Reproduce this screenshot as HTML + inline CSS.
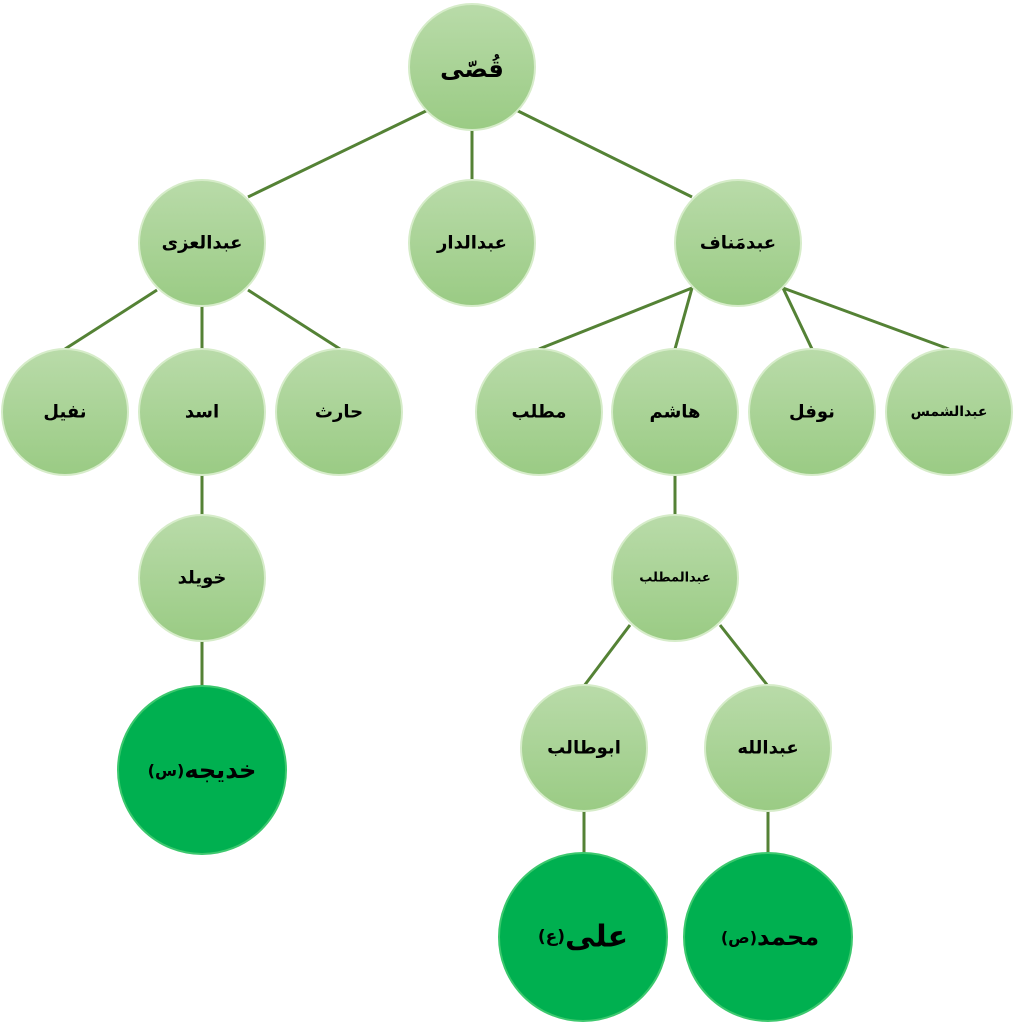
<!DOCTYPE html>
<html><head><meta charset="utf-8"><style>
html,body{margin:0;padding:0;background:#fff;}
svg{display:block;}
text{font-family:"DejaVu Sans","Noto Sans CJK SC",sans-serif;font-weight:bold;fill:#000;text-anchor:middle;dominant-baseline:central;}
</style></head><body>
<svg width="1015" height="1024" viewBox="0 0 1015 1024" xmlns="http://www.w3.org/2000/svg">
<defs>
<linearGradient id="g" x1="0" y1="0" x2="0" y2="1">
<stop offset="0" stop-color="#b9dba9"/><stop offset="1" stop-color="#9acb84"/></linearGradient>
</defs>
<g stroke="#548235" stroke-width="3" fill="none">
<line x1="428" y1="110" x2="248" y2="197"/>
<line x1="472" y1="120" x2="472" y2="190"/>
<line x1="516" y1="110" x2="692" y2="197"/>
<line x1="157" y1="290" x2="65" y2="349"/>
<line x1="202" y1="300" x2="202" y2="360"/>
<line x1="248" y1="290" x2="340" y2="349"/>
<line x1="202" y1="470" x2="202" y2="520"/>
<line x1="202" y1="635" x2="202" y2="690"/>
<line x1="692" y1="288" x2="539" y2="349"/>
<line x1="692" y1="288" x2="675" y2="349"/>
<line x1="783" y1="288" x2="812" y2="349"/>
<line x1="783" y1="288" x2="949" y2="349"/>
<line x1="675" y1="470" x2="675" y2="520"/>
<line x1="630" y1="625" x2="584" y2="686"/>
<line x1="720" y1="625" x2="768" y2="686"/>
<line x1="584" y1="805" x2="584" y2="856"/>
<line x1="768" y1="805" x2="768" y2="856"/>
</g>
<g fill="url(#g)" stroke="#d6ecc9" stroke-width="2">
<circle cx="472" cy="67" r="63"/>
<circle cx="202" cy="243" r="63"/>
<circle cx="472" cy="243" r="63"/>
<circle cx="738" cy="243" r="63"/>
<circle cx="65" cy="412" r="63"/>
<circle cx="202" cy="412" r="63"/>
<circle cx="339" cy="412" r="63"/>
<circle cx="539" cy="412" r="63"/>
<circle cx="675" cy="412" r="63"/>
<circle cx="812" cy="412" r="63"/>
<circle cx="949" cy="412" r="63"/>
<circle cx="202" cy="578" r="63"/>
<circle cx="675" cy="578" r="63"/>
<circle cx="584" cy="748" r="63"/>
<circle cx="768" cy="748" r="63"/>
</g>
<g fill="#00b050" stroke="#3cc86e" stroke-width="2">
<circle cx="202" cy="770" r="84"/>
<circle cx="583" cy="937" r="84"/>
<circle cx="768" cy="937" r="84"/>
</g>
<g font-size="18">
<text x="472" y="69" font-size="24">قُصّی</text>
<text x="202" y="243">عبدالعزی</text>
<text x="472" y="243">عبدالدار</text>
<text x="738" y="243">عبدمَناف</text>
<text x="65" y="412">نفیل</text>
<text x="202" y="412">اسد</text>
<text x="339" y="412">حارث</text>
<text x="539" y="412">مطلب</text>
<text x="675" y="412">هاشم</text>
<text x="812" y="412">نوفل</text>
<text x="949" y="412" font-size="14">عبدالشمس</text>
<text x="202" y="578">خویلد</text>
<text x="675" y="578" font-size="13">عبدالمطلب</text>
<text x="584" y="748">ابوطالب</text>
<text x="768" y="748">عبدالله</text>
<text x="202" y="770" font-size="24">خدیجه<tspan font-size="16">(س)</tspan></text>
<text x="583" y="937" font-size="30">علی<tspan font-size="17">(ع)</tspan></text>
<text x="770" y="937" font-size="24">محمد<tspan font-size="16">(ص)</tspan></text>
</g>
</svg>
</body></html>
